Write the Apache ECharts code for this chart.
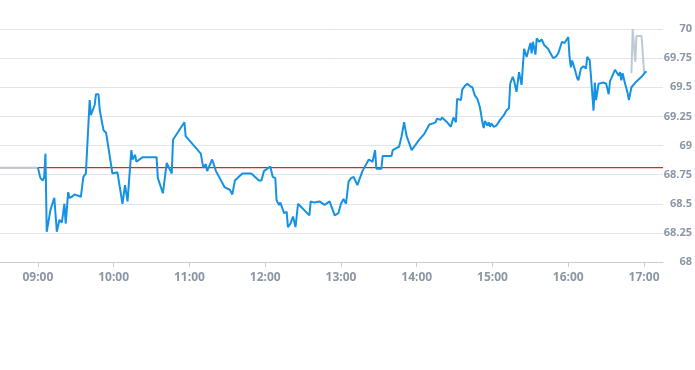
<!DOCTYPE html>
<html>
<head>
<meta charset="utf-8">
<script src="https://cdn.jsdelivr.net/npm/echarts@6/dist/echarts.min.js"></script>
<style>html,body{margin:0;padding:0;background:#fff}#c{width:695px;height:370px}</style>
</head>
<body>
<div id="c"></div>
<script>
const xLabels = ['09:00','10:00','11:00','12:00','13:00','14:00','15:00','16:00','17:00'];
const axisStart = '08:30';
const axisEnd = '17:15';
const refLevel = 68.81;
const preTimes = ['08:30','09:00'];
const preValues = [68.81, 68.81];
const mainTimes = ['09:00','09:02','09:04','09:05','09:06','09:07','09:10','09:13','09:15','09:17','09:19','09:21','09:22','09:24','09:25','09:27','09:29','09:34','09:36','09:38','09:41','09:42','09:45','09:46','09:48','09:49','09:52','09:54','09:59','10:03','10:07','10:09','10:11','10:14','10:15','10:17','10:18','10:23','10:34','10:35','10:39','10:42','10:46','10:47','10:56','10:57','11:09','11:11','11:13','11:14','11:18','11:21','11:28','11:32','11:34','11:36','11:40','11:42','11:49','11:55','11:57','11:59','12:04','12:06','12:08','12:09','12:11','12:12','12:15','12:17','12:18','12:20','12:22','12:24','12:26','12:27','12:35','12:36','12:39','12:43','12:47','12:51','12:55','12:58','13:00','13:02','13:04','13:06','13:08','13:10','13:13','13:17','13:22','13:25','13:27','13:28','13:32','13:33','13:40','13:41','13:46','13:48','13:50','13:52','13:56','14:02','14:06','14:10','14:13','14:15','14:16','14:19','14:20','14:24','14:27','14:29','14:31','14:32','14:35','14:36','14:38','14:40','14:42','14:44','14:46','14:48','14:50','14:52','14:53','14:54','14:56','14:57','14:58','14:59','15:01','15:03','15:06','15:09','15:11','15:13','15:14','15:16','15:17','15:19','15:21','15:23','15:25','15:26','15:27','15:30','15:31','15:32','15:34','15:35','15:37','15:39','15:41','15:44','15:46','15:48','15:50','15:52','15:55','15:57','16:00','16:01','16:02','16:03','16:05','16:07','16:08','16:10','16:12','16:14','16:15','16:17','16:18','16:20','16:21','16:22','16:24','16:28','16:30','16:32','16:33','16:37','16:40','16:41','16:42','16:43','16:45','16:47','16:48','16:50','16:54','16:58','17:01','17:02'];
const mainValues = [68.81,68.72,68.70,68.73,68.93,68.26,68.45,68.55,68.26,68.36,68.34,68.50,68.33,68.60,68.55,68.56,68.58,68.56,68.73,68.76,69.39,69.26,69.35,69.44,69.44,69.30,69.13,69.11,68.76,68.77,68.50,68.66,68.52,68.96,68.88,68.92,68.86,68.90,68.90,68.72,68.59,68.85,68.76,69.05,69.20,69.08,68.93,68.81,68.84,68.78,68.88,68.78,68.64,68.62,68.58,68.70,68.74,68.76,68.76,68.70,68.70,68.78,68.82,68.73,68.72,68.53,68.49,68.51,68.42,68.43,68.30,68.33,68.39,68.30,68.50,68.50,68.40,68.52,68.51,68.52,68.49,68.52,68.40,68.42,68.50,68.54,68.50,68.69,68.72,68.73,68.66,68.78,68.88,68.86,68.96,68.80,68.80,68.91,68.91,68.96,68.99,69.08,69.20,69.08,68.96,69.05,69.10,69.18,69.19,69.20,69.23,69.22,69.24,69.20,69.16,69.24,69.20,69.40,69.39,69.48,69.51,69.53,69.51,69.50,69.43,69.40,69.33,69.20,69.15,69.21,69.17,69.20,69.16,69.19,69.16,69.17,69.22,69.26,69.30,69.32,69.53,69.59,69.56,69.46,69.63,69.52,69.83,69.84,69.76,69.88,69.79,69.89,69.78,69.92,69.89,69.91,69.86,69.83,69.79,69.75,69.76,69.79,69.89,69.88,69.93,69.76,69.67,69.73,69.66,69.58,69.56,69.66,69.68,69.66,69.76,69.73,69.72,69.30,69.54,69.39,69.53,69.54,69.53,69.44,69.55,69.65,69.60,69.63,69.56,69.62,69.53,69.45,69.39,69.50,69.55,69.59,69.63,69.63];
const postTimes = ['16:50','16:51','16:53','16:54','16:58','17:00','17:02'];
const postValues = [69.62,70.00,69.72,69.94,69.94,69.63,69.63];

function toMin(t){const p=t.split(':');return (+p[0])*60+(+p[1]);}
function fmt(m){const h=Math.floor(m/60), mm=m%60;return (h<10?'0':'')+h+':'+(mm<10?'0':'')+mm;}
function pairs(ts,vs){return ts.map((t,i)=>[toMin(t),vs[i]]);}
const tickVals = xLabels.map(toMin);

const chart = echarts.init(document.getElementById('c'), null, {renderer:'canvas'});
const labelBase = {color:'#8b97a4', fontFamily:'Open Sans'};
chart.setOption({
  animation:false,
  grid:{left:0,right:30,top:29,bottom:108,containLabel:false},
  xAxis:{
    type:'value', min:toMin(axisStart), max:toMin(axisEnd),
    axisLine:{show:true,lineStyle:{color:'#c8ced6',width:1}},
    axisTick:{show:true,customValues:tickVals,length:5,lineStyle:{color:'#c8ced6'}},
    axisLabel:Object.assign({customValues:tickVals,formatter:v=>fmt(v),margin:10,fontSize:12,fontWeight:'bold'},labelBase),
    splitLine:{show:false}
  },
  yAxis:{
    type:'value', position:'right', min:68, max:70, interval:0.25,
    axisLine:{show:false}, axisTick:{show:false},
    axisLabel:Object.assign({align:'right',margin:29,fontSize:11,fontWeight:'bold'},labelBase),
    splitLine:{show:true,lineStyle:{color:'#e1e5ea',width:1}}
  },
  series:[
    {type:'line',data:[[toMin(axisStart),refLevel],[toMin(axisEnd),refLevel]],symbol:'none',silent:true,
     lineStyle:{color:'#ee1c25',width:1.2},z:2},
    {type:'line',data:pairs(preTimes,preValues),symbol:'none',lineStyle:{color:'#bfc9d3',width:2},z:3},
    {type:'line',data:pairs(postTimes,postValues),symbol:'none',lineStyle:{color:'#bfc9d3',width:2},z:3},
    {type:'line',data:pairs(mainTimes,mainValues),symbol:'none',lineStyle:{color:'#1592e3',width:2},z:4}
  ]
});
</script>
</body>
</html>
